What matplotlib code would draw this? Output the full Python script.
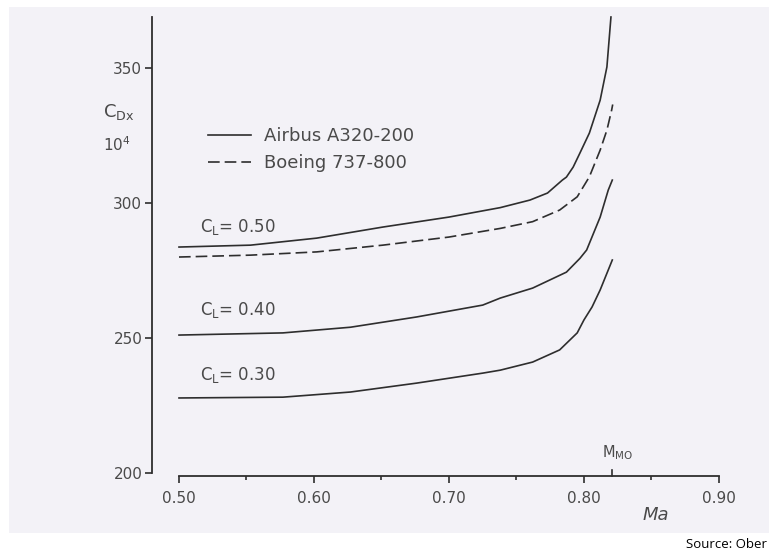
import numpy as np
import matplotlib.pyplot as plt
from matplotlib.patches import Rectangle

# Datos (Ma, C_Dx * 10^4)
ma_airbus_50 = [0.500, 0.553, 0.602, 0.651, 0.700, 0.738, 0.760, 0.773, 0.784,
                0.787, 0.792, 0.797, 0.804, 0.812, 0.817, 0.820]
cd_airbus_50 = [283.7, 284.4, 287.0, 291.1, 294.8, 298.3, 301.1, 303.7, 308.5,
                309.6, 313.3, 318.5, 325.9, 338.1, 350.4, 368.9]

ma_boeing_50 = [0.500, 0.553, 0.602, 0.651, 0.700, 0.738, 0.762, 0.782, 0.795,
                0.804, 0.812, 0.817, 0.8205, 0.8213]
cd_boeing_50 = [280.0, 280.7, 281.9, 284.4, 287.4, 290.6, 293.1, 297.4, 302.3,
                309.7, 319.6, 327.0, 334.4, 336.5]

ma_cl_40 = [0.500, 0.577, 0.627, 0.676, 0.725, 0.738, 0.762, 0.787, 0.797,
            0.802, 0.812, 0.818, 0.821]
cd_cl_40 = [251.1, 251.9, 254.0, 257.8, 262.2, 264.8, 268.5, 274.4, 279.5,
            282.6, 294.8, 304.8, 308.5]

ma_cl_30 = [0.500, 0.577, 0.627, 0.676, 0.725, 0.738, 0.762, 0.782, 0.795,
            0.800, 0.806, 0.812, 0.821]
cd_cl_30 = [227.8, 228.1, 230.0, 233.3, 237.0, 238.1, 241.1, 245.6, 251.9,
            256.7, 261.5, 267.8, 278.9]

x_ticks = [0.50, 0.60, 0.70, 0.80, 0.90]
x_minor = [0.55, 0.65, 0.75, 0.85]
y_ticks = [200, 250, 300, 350]
m_mo = 0.821

ink = '#2e2e2e'
txt = '#4a4a4a'

fig = plt.figure(figsize=(7.69, 5.53), dpi=100)
fig.patch.set_facecolor('white')

# papel escaneado
fig.patches.append(Rectangle((9 / 769, 20 / 553), 1 - 9 / 769, 526 / 553,
                             transform=fig.transFigure, facecolor='#f3f2f7',
                             edgecolor='none', zorder=-5))

ax = fig.add_axes([152 / 769, 77 / 553, 588 / 769, 459 / 553])
ax.set_facecolor('none')
ax.set_zorder(2)
ax.set_xlim(0.48, 0.9156)
ax.set_ylim(198.9, 368.9)

# Curvas
ax.plot(ma_airbus_50, cd_airbus_50, color=ink, lw=1.2, clip_on=False,
        label='Airbus A320-200')
ax.plot(ma_boeing_50, cd_boeing_50, color=ink, lw=1.2, dashes=(7, 3),
        clip_on=False, label='Boeing 737-800')
ax.plot(ma_cl_40, cd_cl_40, color=ink, lw=1.2, clip_on=False)
ax.plot(ma_cl_30, cd_cl_30, color=ink, lw=1.2, clip_on=False)

# Ejes
for s in ['top', 'right']:
    ax.spines[s].set_visible(False)
ax.spines['left'].set_bounds(200, 368.9)
ax.spines['bottom'].set_bounds(0.50, 0.90)
for s in ['left', 'bottom']:
    ax.spines[s].set_color(ink)
    ax.spines[s].set_linewidth(1.3)

ax.set_xticks(x_ticks)
ax.set_xticklabels(['0.50', '0.60', '0.70', '0.80', '0.90'])
ax.set_xticks(x_minor, minor=True)
ax.set_yticks(y_ticks)
ax.tick_params(axis='both', which='major', colors=ink, labelcolor=txt,
               labelsize=11, length=5, width=1.2, direction='out')
ax.tick_params(axis='x', which='minor', colors=ink, length=3, width=1.2)
ax.tick_params(axis='x', pad=6)
ax.tick_params(axis='y', pad=2)

# M_MO
ax.plot([m_mo, m_mo], [198.9, 201.3], color=ink, lw=1.2, clip_on=False)
ax.text(m_mo + 0.004, 204, r'$\mathregular{M_{MO}}$', color=txt, fontsize=10.5,
        ha='center', va='bottom')
ax.text(0.853, 184.5, 'Ma', color=txt, fontsize=13, ha='center', va='center',
        style='italic', clip_on=False)

# Etiqueta eje y
fig.text(103 / 769, 1 - 112 / 553, r'$\mathregular{C_{Dx}}$', color=txt,
         fontsize=13, ha='left', va='center')
fig.text(103 / 769, 1 - 145 / 553, r'$\mathregular{10^4}$', color=txt,
         fontsize=11, ha='left', va='center')

# Etiquetas de C_L
for y, lab in [(227, '= 0.50'), (310, '= 0.40'), (375, '= 0.30')]:
    fig.text(200 / 769, 1 - y / 553, r'$\mathregular{C_L}$' + lab,
             color=txt, fontsize=12, ha='left', va='center')

leg = ax.legend(loc='upper left', bbox_to_anchor=(199 / 769, 1 - 118 / 553),
                bbox_transform=fig.transFigure, frameon=False,
                handlelength=2.4, handletextpad=0.7, borderpad=0,
                labelspacing=0.5, prop={'size': 13})
for t in leg.get_texts():
    t.set_color(txt)

fig.text(767 / 769, 1 - 545 / 553, 'Source: Ober', fontsize=9.5,
         family='Open Sans', color='black', ha='right', va='center')

fig.savefig('out.png', dpi=100)
